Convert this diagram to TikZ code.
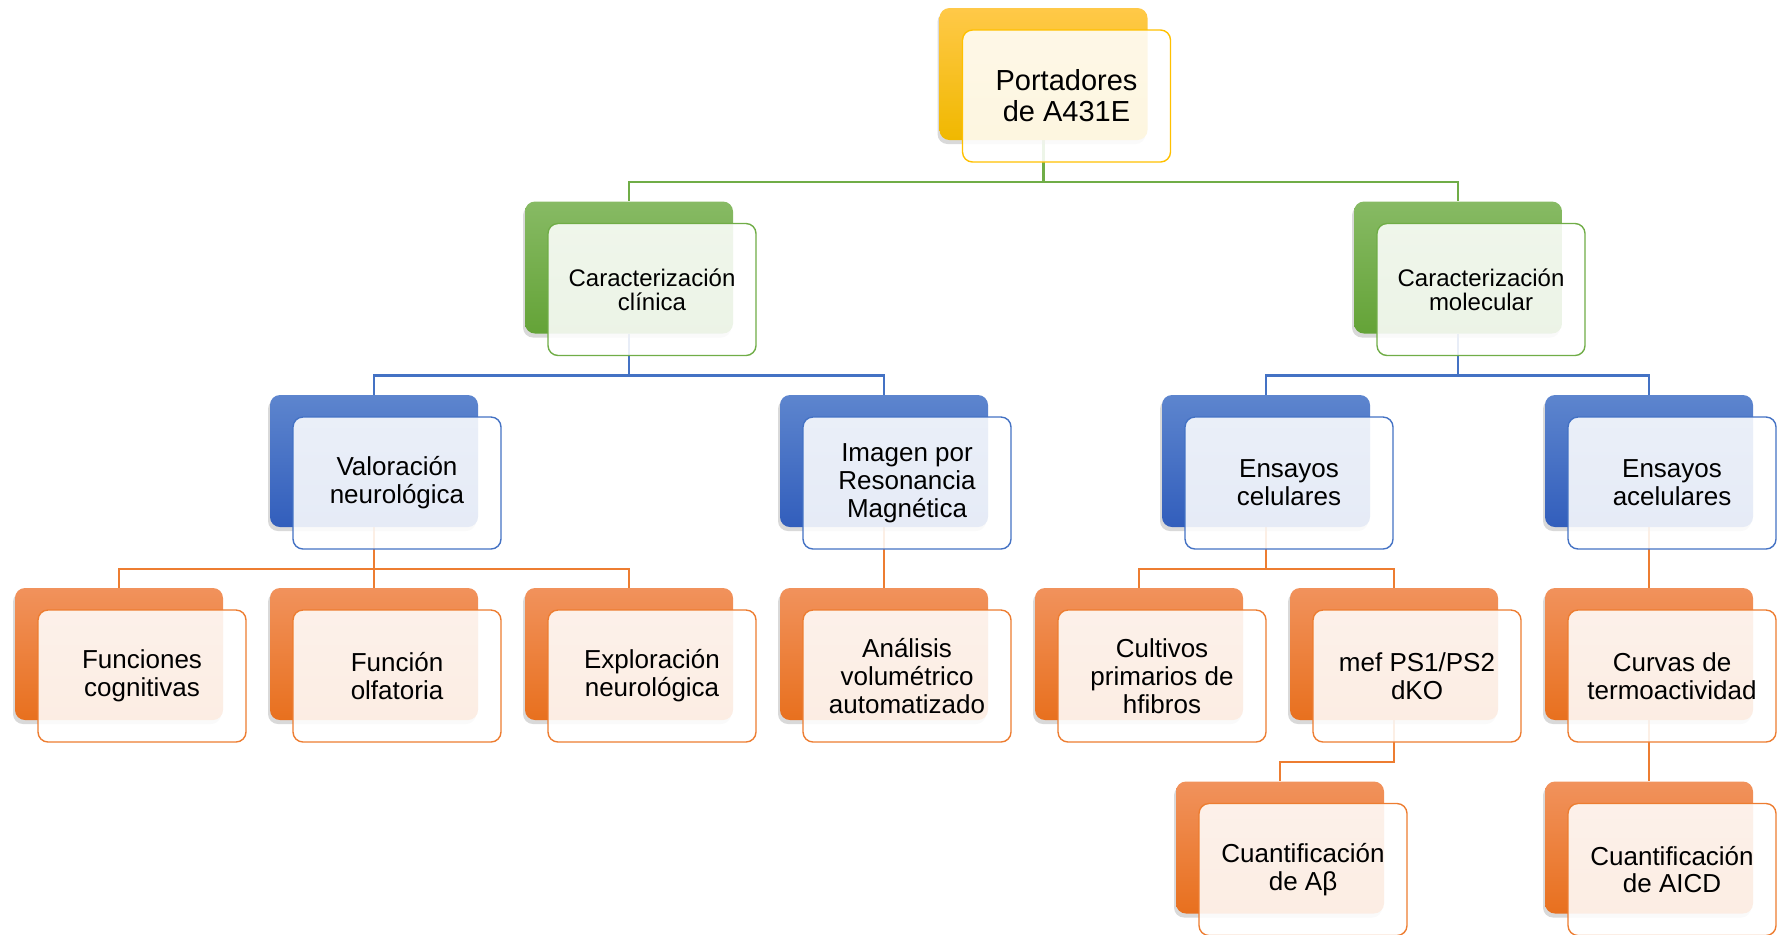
\documentclass[tikz,border=0pt]{standalone}
\usepackage{fontspec}
\setmainfont{Liberation Sans}
\usetikzlibrary{calc,shadows,backgrounds}

\definecolor{accGold}{RGB}{255,192,0}
\definecolor{accGreen}{RGB}{112,173,71}
\definecolor{accBlue}{RGB}{68,114,196}
\definecolor{accOrange}{RGB}{237,125,49}
\definecolor{goldTop}{RGB}{255,201,72}
\definecolor{goldBot}{RGB}{240,184,0}
\definecolor{greenTop}{RGB}{135,186,100}
\definecolor{greenBot}{RGB}{100,163,55}
\definecolor{blueTop}{RGB}{93,133,206}
\definecolor{blueBot}{RGB}{50,94,188}
\definecolor{orangeTop}{RGB}{241,146,92}
\definecolor{orangeBot}{RGB}{232,112,30}

\tikzset{
  backbox/.style={rounded corners=5pt, minimum width=104pt, minimum height=66pt,
    inner sep=0pt, drop shadow={shadow xshift=-1pt, shadow yshift=-2pt, opacity=.3}},
  frontbox/.style={rounded corners=5pt, minimum width=104pt, minimum height=66pt,
    inner sep=2pt, fill=white, fill opacity=.88, text opacity=1, line width=.7pt,
    align=center, text=black},
  gold back/.style={top color=goldTop, bottom color=goldBot},
  gold front/.style={draw=accGold, font=\fontsize{14.5}{15.5}\selectfont},
  green back/.style={top color=greenTop, bottom color=greenBot},
  green front/.style={draw=accGreen, font=\fontsize{12}{12}\selectfont},
  blue back/.style={top color=blueTop, bottom color=blueBot},
  blue front/.style={draw=accBlue, font=\fontsize{13}{13.9}\selectfont},
  orange back/.style={top color=orangeTop, bottom color=orangeBot},
  orange front/.style={draw=accOrange, font=\fontsize{13}{13.9}\selectfont},
  bus/.style={line width=1.1pt}
}

% caja doble: fondo con degradado + tarjeta clara desplazada
\newcommand{\caja}[4]{%
  \node[backbox, #3 back] (#1) at (#2) {};
  \node[frontbox, #3 front] (#1-f) at ($(#1)+(23,22)$) {#4};}

\begin{document}
\begin{tikzpicture}[x=0.5pt, y=-0.5pt]

    \useasboundingbox (0,0) rectangle (1781,934);

    %-- Raíz --
    \caja{root}{1043.5,74}{gold}{Portadores\\de A431E}

    %-- Nivel 1 --
    \caja{clin}{629,267.5}{green}{Caracterización\\clínica}
    \caja{mol}{1458,267.5}{green}{Caracterización\\molecular}

    %-- Nivel 2 --
    \caja{valor}{374,461}{blue}{Valoración\\neurológica}
    \caja{irm}{884,461}{blue}{Imagen por\\Resonancia\\Magnética}
    \caja{celu}{1266,461}{blue}{Ensayos\\celulares}
    \caja{acelu}{1649,461}{blue}{Ensayos\\acelulares}

    %-- Nivel 3 --
    \caja{cogn}{119,654}{orange}{Funciones\\cognitivas}
    \caja{olfa}{374,654}{orange}{Función\\olfatoria}
    \caja{explo}{629,654}{orange}{Exploración\\neurológica}
    \caja{volu}{884,654}{orange}{Análisis\\volumétrico\\automatizado}
    \caja{cult}{1139,654}{orange}{Cultivos\\primarios de\\hfibros}
    \caja{mef}{1394,654}{orange}{mef PS1/PS2\\dKO}
    \caja{termo}{1649,654}{orange}{Curvas de\\termoactividad}

    %-- Nivel 4 --
    \caja{abeta}{1280,847.5}{orange}{Cuantificación\\de Aβ}
    \caja{aicd}{1649,847.5}{orange}{Cuantificación\\de AICD}

    %-- Conectores (detrás de las cajas) --
    \begin{pgfonlayer}{background}
        \foreach \p/\c in {root/clin, root/mol}
            \draw[bus, accGreen] (\p.south) |- ($(\p.south |- \p-f.south)!.5!(\p.south |- \c.north)$) -| (\c.north);
        \foreach \p/\c in {clin/valor, clin/irm, mol/celu, mol/acelu}
            \draw[bus, accBlue] (\p.south) |- ($(\p.south |- \p-f.south)!.5!(\p.south |- \c.north)$) -| (\c.north);
        \foreach \p/\c in {valor/cogn, valor/olfa, valor/explo, irm/volu,
                           celu/cult, celu/mef, acelu/termo, mef/abeta, termo/aicd}
            \draw[bus, accOrange] (\p.south) |- ($(\p.south |- \p-f.south)!.5!(\p.south |- \c.north)$) -| (\c.north);
    \end{pgfonlayer}

\end{tikzpicture}
\end{document}
